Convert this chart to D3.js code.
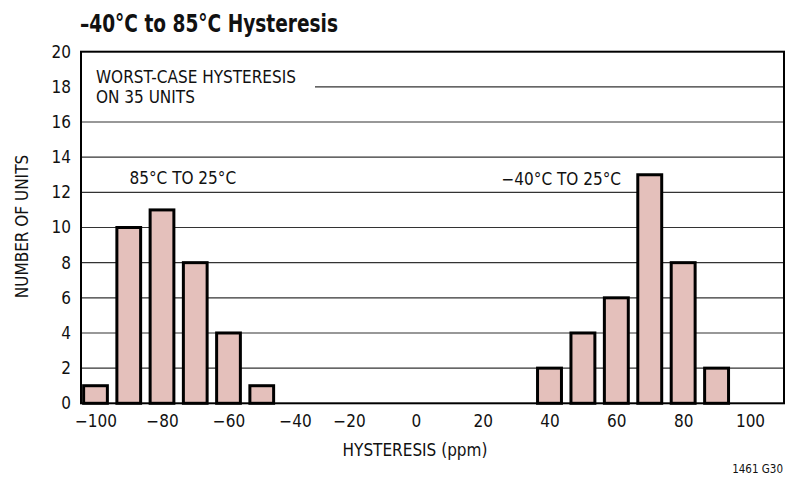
<!DOCTYPE html>
<html>
<head>
<meta charset="utf-8">
<script src="https://cdn.jsdelivr.net/npm/d3@7"></script>
<style>
  body { margin: 0; background: #fff; }
  svg text { font-family: "Liberation Sans Narrow", "Arial Narrow", "DejaVu Sans Condensed", sans-serif; fill: #111; }
  .title { font-weight: bold; font-size: 24px; }
  .lbl { font-size: 17px; }
  .grid line { stroke: #333; stroke-width: 1.2; }
  .bar { fill: #e4c0bb; stroke: #000; stroke-width: 3; }
</style>
</head>
<body>
<svg id="chart" width="785" height="479"></svg>
<script>
// histogram bins (bin centre in ppm) and unit counts
var hotBins   = [-100, -90, -80, -70, -60, -50];
var hotCounts = [1, 10, 11, 8, 4, 1];
var coldBins   = [40, 50, 60, 70, 80, 90];
var coldCounts = [2, 4, 6, 13, 8, 2];
var xTicks = [-100, -80, -60, -40, -20, 0, 20, 40, 60, 80, 100];
var yTicks = [0, 2, 4, 6, 8, 10, 12, 14, 16, 18, 20];
var binWidth = 10;

var svg = d3.select("#chart");
var plotLeft = 81, plotRight = 784, plotTop = 51.7, plotBottom = 403.3;

// the printed axis is not quite even, left half sits a little to the right
var x = d3.scaleLinear()
  .domain([-100, -40, -20, 100])
  .range([95.5, 295, 349, 750]);
var y = d3.scaleLinear().domain([0, 20]).range([plotBottom, plotTop]);

svg.append("text").attr("class", "title")
  .attr("x", 80).attr("y", 31.5)
  .attr("textLength", 258).attr("lengthAdjust", "spacingAndGlyphs")
  .text("\u201340\u00b0C to 85\u00b0C Hysteresis");

// grid
var grid = svg.append("g").attr("class", "grid");
grid.selectAll("line")
  .data(yTicks.filter(function(d) { return d > 0 && d < 20; }))
  .enter().append("line")
    .attr("x1", function(d) { return d == 18 ? 315 : plotLeft; })
    .attr("x2", plotRight)
    .attr("y1", function(d) { return y(d); })
    .attr("y2", function(d) { return y(d); });

// bars
var bins = hotBins.map(function(b, i) { return {c: b, n: hotCounts[i]}; })
  .concat(coldBins.map(function(b, i) { return {c: b, n: coldCounts[i]}; }));
var gap = 6.5, sw = 3;
svg.append("g").selectAll("rect")
  .data(bins)
  .enter().append("rect")
    .attr("class", "bar")
    .attr("x", function(d) { return x(d.c - binWidth / 2) + gap / 2 + sw / 2; })
    .attr("width", function(d) { return x(d.c + binWidth / 2) - x(d.c - binWidth / 2) - gap - sw; })
    .attr("y", function(d) { return y(d.n); })
    .attr("height", function(d) { return plotBottom - y(d.n); });

// frame
svg.append("rect")
  .attr("x", plotLeft).attr("y", plotTop)
  .attr("width", plotRight - plotLeft).attr("height", plotBottom - plotTop)
  .attr("fill", "none").attr("stroke", "#000").attr("stroke-width", 2);

// axes
svg.append("g")
  .attr("transform", "translate(0," + plotBottom + ")")
  .call(d3.axisBottom(x).tickValues(xTicks).tickSize(0).tickPadding(12));
svg.append("g")
  .attr("transform", "translate(" + plotLeft + ",0)")
  .call(d3.axisLeft(y).tickValues(yTicks).tickSize(0).tickPadding(10));
svg.selectAll(".domain").remove();
svg.selectAll(".tick text").attr("class", "lbl").attr("fill", "#111");
svg.selectAll("g[font-family]").attr("font-family", null).attr("font-size", null);

svg.append("text").attr("class", "lbl")
  .attr("x", 415).attr("y", 456)
  .attr("text-anchor", "middle")
  .text("HYSTERESIS (ppm)");
svg.append("text").attr("class", "lbl")
  .attr("transform", "translate(28,226.5) rotate(-90)")
  .attr("text-anchor", "middle")
  .text("NUMBER OF UNITS");

svg.append("text").attr("class", "lbl").attr("x", 96).attr("y", 82.7)
  .text("WORST-CASE HYSTERESIS");
svg.append("text").attr("class", "lbl").attr("x", 96).attr("y", 103.3)
  .text("ON 35 UNITS");
svg.append("text").attr("class", "lbl").attr("x", 129.5).attr("y", 184.3)
  .text("85\u00b0C TO 25\u00b0C");
svg.append("text").attr("class", "lbl").attr("x", 501.5).attr("y", 185)
  .text("\u221240\u00b0C TO 25\u00b0C");

svg.append("text")
  .attr("x", 783).attr("y", 473.3)
  .attr("text-anchor", "end")
  .style("font-size", "11.5px")
  .text("1461 G30");
</script>
</body>
</html>
